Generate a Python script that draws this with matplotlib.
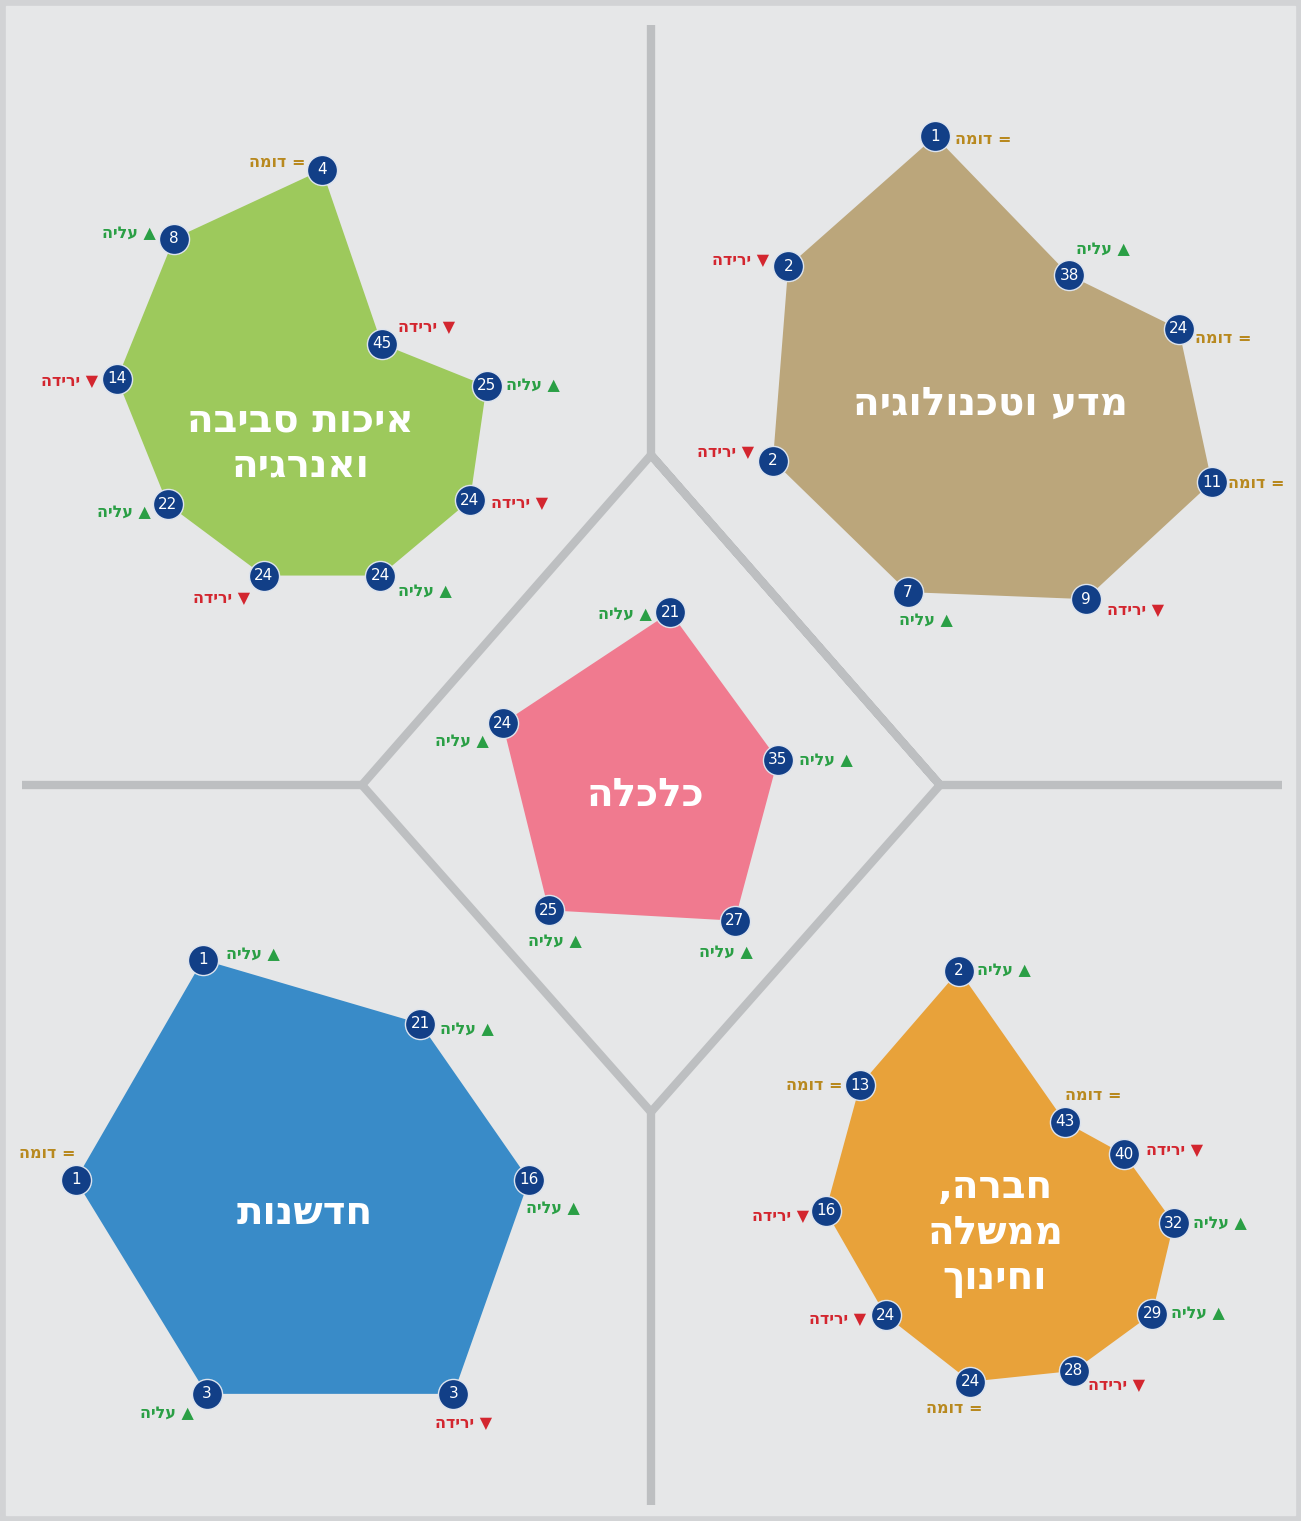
import numpy as np
import matplotlib.pyplot as plt

plt.rcParams["font.family"] = ["DejaVu Sans"]

W, H = 1301, 1521

# ranks for each pillar, clockwise from the top axis, and change vs last year
env_ranks = [4, 45, 25, 24, 24, 24, 22, 14, 8]
env_trend = ["same", "down", "up", "down", "up", "down", "up", "down", "up"]
tech_ranks = [1, 38, 24, 11, 9, 7, 2, 2]
tech_trend = ["same", "up", "same", "same", "down", "up", "down", "down"]
econ_ranks = [21, 35, 27, 25, 24]
econ_trend = ["up", "up", "up", "up", "up"]
innov_ranks = [1, 21, 16, 3, 3, 1]
innov_trend = ["up", "up", "up", "down", "up", "same"]
soc_ranks = [2, 43, 40, 32, 29, 28, 24, 24, 16, 13]
soc_trend = ["up", "same", "down", "up", "up", "down", "same", "down", "down", "same"]

titles = ["איכות סביבה\nואנרגיה", "מדע וטכנולוגיה", "כלכלה", "חדשנות", "חברה,\nממשלה\nוחינוך"]

trend_word = {"up": "עליה", "down": "ירידה", "same": "דומה"}
trend_sign = {"up": "▲", "down": "▼", "same": "="}
trend_col = {"up": "#2a9f45", "down": "#d3262f", "same": "#b8891f"}

NAVY = "#123f87"
BG = "#e6e7e8"
K = 70  # rank that sits at the centre

# layout: centre x, centre y (px), rotation (deg), radius for rank 0 (px), colour
layout = [
    (322, 415, 0, 260, "#9dc95c"),
    (1015, 382, -18, 262, "#bba67b"),
    (655, 788, 5, 252, "#f07a8f"),
    (330, 1180, -30, 258, "#398bc8"),
    (1030, 1218, -16, 265, "#e8a23a"),
]
title_pos = [(300, 443), (990, 404), (645, 795), (305, 1213), (995, 1233)]

# trend label offsets from each marker (px, right / down)
env_off = [(-45, -7), (45, -16), (46, 0), (50, 3), (44, 16), (-42, 23), (-44, 8), (-48, 3), (-45, -5)]
tech_off = [(48, 3), (33, -26), (45, 10), (44, 1), (50, 11), (18, 28), (-47, -8), (-48, -6)]
econ_off = [(-45, 2), (48, 1), (-9, 32), (6, 31), (-41, 18)]
innov_off = [(50, -5), (47, 6), (24, 29), (10, 30), (-40, 20), (-28, -26)]
soc_off = [(45, 0), (28, -26), (50, -4), (46, 1), (46, 0), (43, 15), (-16, 27), (-48, 4), (-45, 6), (-46, 0)]

pillars = [
    (env_ranks, env_trend, env_off),
    (tech_ranks, tech_trend, tech_off),
    (econ_ranks, econ_trend, econ_off),
    (innov_ranks, innov_trend, innov_off),
    (soc_ranks, soc_trend, soc_off),
]


def visual(s):
    # matplotlib lays text out left to right, so flip hebrew lines
    return "\n".join(line[::-1] for line in s.split("\n"))


fig = plt.figure(figsize=(W / 100, H / 100), dpi=100)
fig.patch.set_facecolor("#d2d3d5")

ax0 = fig.add_axes([0, 0, 1, 1])
ax0.set_xlim(0, W)
ax0.set_ylim(H, 0)
ax0.set_axis_off()
ax0.add_patch(plt.Rectangle((6, 6), W - 12, H - 12, color=BG, zorder=0))

div = dict(color="#bdbfc1", lw=6, solid_capstyle="butt", solid_joinstyle="miter", zorder=1)
ax0.plot([651, 651], [25, 455], **div)
ax0.plot([651, 940, 651, 362, 651, 940], [455, 785, 1112, 785, 455, 785], **div)
ax0.plot([22, 362], [785, 785], **div)
ax0.plot([940, 1282], [785, 785], **div)
ax0.plot([651, 651], [1112, 1505], **div)

for (ranks, trends, offs), (cx, cy, rot, S, col), title, (tx, ty) in zip(pillars, layout, titles, title_pos):
    ax = fig.add_axes([(cx - S) / W, 1 - (cy + S) / H, 2 * S / W, 2 * S / H], projection="polar")
    ax.set_theta_zero_location("N")
    ax.set_theta_direction(-1)
    ax.set_ylim(0, K)
    ax.set_axis_off()

    n = len(ranks)
    th = np.deg2rad(rot + 360 * np.arange(n) / n)
    rr = K - np.array(ranks)
    ax.fill(np.append(th, th[0]), np.append(rr, rr[0]), color=col, lw=0, clip_on=False, zorder=1)
    ax.scatter(th, rr, s=470, color=NAVY, edgecolors="#dde4ee", linewidths=1,
               clip_on=False, zorder=3)

    for t, r, rank, tr, (dx, dy) in zip(th, rr, ranks, trends, offs):
        ax.text(t, r, str(rank), color="white", fontsize=11, ha="center", va="center", zorder=4)
        lab = trend_word[tr][::-1] + " " + trend_sign[tr]
        ax.annotate(lab, (t, r), xytext=(dx * 0.72, -dy * 0.72), textcoords="offset points",
                    color=trend_col[tr], fontsize=11.5, fontweight="bold",
                    ha="center", va="center", zorder=4)

    ax.text(tx, ty, visual(title), transform=ax0.transData, color="white", fontsize=28,
            fontweight="bold", ha="center", va="center", linespacing=1.25, zorder=5)

fig.savefig("out.png", dpi=100, facecolor=fig.get_facecolor())
